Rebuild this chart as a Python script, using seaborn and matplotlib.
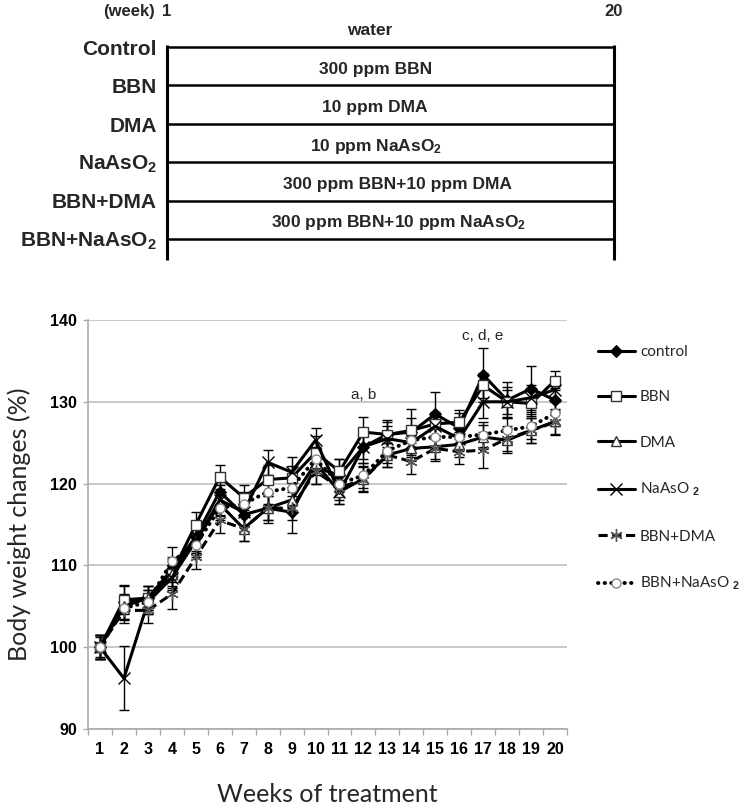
import numpy as np
import pandas as pd
import matplotlib
matplotlib.use("Agg")
import matplotlib.pyplot as plt
import seaborn as sns

# ---------------- data ----------------
groups = ["Control", "BBN", "DMA", r"NaAsO$_\mathbf{2}$", "BBN+DMA", r"BBN+NaAsO$_\mathbf{2}$"]
treatments = ["water", "300 ppm BBN", "10 ppm DMA", r"10 ppm NaAsO$_\mathbf{2}$",
              "300 ppm BBN+10 ppm DMA", r"300 ppm BBN+10 ppm NaAsO$_\mathbf{2}$"]
schedule_weeks = [1, 20]

weeks = list(range(1, 21))
control = [100, 105.5, 106.0, 109.5, 113.5, 119.0, 116.2, 117.0, 116.5, 122.0,
           121.0, 124.5, 126.0, 126.3, 128.5, 126.8, 133.3, 130.2, 131.6, 130.2]
bbn = [100, 105.8, 106.0, 109.0, 115.0, 120.8, 118.3, 120.5, 120.7, 123.8,
       121.5, 126.3, 126.0, 126.5, 127.3, 127.5, 132.0, 130.0, 129.8, 132.6]
dma = [100, 105.0, 106.0, 109.0, 113.0, 117.5, 114.5, 117.0, 118.0, 122.5,
       119.0, 120.6, 123.5, 124.3, 124.5, 124.8, 125.7, 125.3, 126.5, 127.6]
naaso2 = [100, 96.2, 105.5, 108.5, 113.0, 118.0, 116.5, 122.6, 121.4, 125.3,
          119.0, 124.5, 125.5, 125.0, 127.0, 125.5, 130.0, 130.0, 130.5, 131.5]
bbn_dma = [100, 104.5, 104.5, 106.5, 111.0, 115.5, 114.5, 117.0, 117.0, 121.5,
           119.5, 120.5, 123.5, 122.7, 124.3, 123.9, 124.1, 125.5, 126.5, 127.5]
bbn_naaso2 = [100, 104.8, 105.5, 110.5, 112.5, 117.0, 117.5, 119.0, 119.5, 123.0,
              120.0, 121.0, 124.0, 125.3, 125.7, 125.7, 126.0, 126.5, 127.0, 128.6]

control_sd = [1.5, 2.0, 1.5, 1.5, 1.8, 2.0, 1.5, 1.8, 2.5, 2.0,
              2.0, 1.5, 1.5, 2.8, 2.7, 1.8, 3.3, 2.2, 2.8, 1.5]
bbn_sd = [1.2, 1.8, 1.5, 1.8, 1.5, 1.5, 1.5, 1.8, 1.5, 2.0,
          1.5, 1.8, 1.8, 1.5, 1.5, 1.5, 1.5, 1.5, 1.5, 1.2]
dma_sd = [1.5, 1.5, 1.5, 1.5, 1.5, 1.5, 1.5, 1.5, 1.5, 1.5,
          1.5, 1.5, 1.5, 1.5, 1.5, 1.5, 1.5, 1.5, 1.5, 1.5]
naaso2_sd = [1.5, 3.9, 1.5, 1.5, 1.5, 1.8, 1.5, 1.5, 1.8, 1.5,
             1.5, 2.0, 1.5, 1.8, 1.5, 1.5, 2.0, 1.8, 1.5, 1.5]
bbn_dma_sd = [1.5, 1.5, 1.5, 1.8, 1.5, 1.5, 1.5, 1.5, 1.5, 1.5,
              1.5, 1.5, 1.5, 1.5, 1.5, 1.5, 2.2, 1.5, 1.5, 1.5]
bbn_naaso2_sd = [1.5, 1.5, 1.5, 1.8, 1.5, 1.5, 1.5, 1.5, 1.5, 1.5,
                 1.5, 1.5, 1.5, 1.5, 1.5, 1.5, 1.5, 1.5, 1.5, 1.5]

series_names = ["control", "BBN", "DMA", r"NaAsO $_\mathbf{2}$", "BBN+DMA", r"BBN+NaAsO $_\mathbf{2}$"]
series_vals = [control, bbn, dma, naaso2, bbn_dma, bbn_naaso2]
series_sd = [control_sd, bbn_sd, dma_sd, naaso2_sd, bbn_dma_sd, bbn_naaso2_sd]

annotations = ["a, b", "c, d, e"]
annot_week = [12, 17]
annot_y = [130.8, 138.0]

# ---------------- style ----------------
sns.set_theme(style="white")
plt.rcParams["font.family"] = ["Liberation Sans", "DejaVu Sans"]
plt.rcParams["mathtext.fontset"] = "custom"
plt.rcParams["mathtext.rm"] = "Liberation Sans:bold"
plt.rcParams["mathtext.bf"] = "Liberation Sans:bold"
plt.rcParams["mathtext.it"] = "Liberation Sans:bold"

W, H = 742, 811
fig = plt.figure(figsize=(W / 100, H / 100), dpi=100)

# ---------------- top schematic ----------------
top_h = 270
ax_top = fig.add_axes([0, 1 - top_h / H, 1, top_h / H])
ax_top.axis("off")
ppw = (614 - 167) / 19.0
ax_top.set_xlim(1 - 167 / ppw, 1 + (W - 167) / ppw)
row_px = 38.4
ax_top.set_ylim((top_h - 47) / row_px, -47 / row_px)

rows = np.arange(len(groups))
ax_top.hlines(rows, schedule_weeks[0], schedule_weeks[1], color="black", lw=1.8)
ax_top.vlines(schedule_weeks, -0.06, 5.55, color="black", lw=2.2)
label_week = [9.6, 9.85, 9.85, 9.9, 10.8, 10.85]
for i, (g, t) in enumerate(zip(groups, treatments)):
    ax_top.text(1 - 10 / ppw, i + 0.06, g, ha="right", va="center",
                fontsize=15, fontweight="bold")
    ax_top.text(label_week[i], i - 0.42, t, ha="center", va="center",
                fontsize=12.5, fontweight="bold")
ax_top.text(1 - 12 / ppw, -0.93, "(week)", ha="right", va="center", fontsize=12, fontweight="bold")
for wk in schedule_weeks:
    ax_top.text(wk, -0.93, str(wk), ha="center", va="center", fontsize=12, fontweight="bold")

# ---------------- main chart ----------------
ax = fig.add_axes([88 / W, 1 - 729 / H, 479 / W, 409 / H])

styles = [
    dict(marker="D", markersize=6, markerfacecolor="black", markeredgecolor="black", linestyle="-"),
    dict(marker="s", markersize=7.5, markerfacecolor="white", markeredgecolor="#333333", markeredgewidth=1, linestyle="-"),
    dict(marker="^", markersize=7.5, markerfacecolor="white", markeredgecolor="#333333", markeredgewidth=1, linestyle="-"),
    dict(marker="x", markersize=8.5, markeredgecolor="black", markeredgewidth=1, linestyle="-"),
    dict(marker=(6, 2, 0), markersize=9, markeredgecolor="#555555", markeredgewidth=1, linestyle=(0, (3, 1.5))),
    dict(marker="o", markersize=6.5, markerfacecolor="white", markeredgecolor="#888888", markeredgewidth=1,
         linestyle=(0, (0.1, 1.6)), dash_capstyle="round"),
]
line_widths = [2.2, 2.2, 2.2, 2.2, 2.2, 2.8]

for vals, sd in zip(series_vals, series_sd):
    ax.errorbar(weeks, vals, yerr=sd, fmt="none", ecolor="black", elinewidth=1,
                capsize=3.5, capthick=1, zorder=2)
for name, vals, st, lw in zip(series_names, series_vals, styles, line_widths):
    df = pd.DataFrame({"week": weeks, "value": vals})
    sns.lineplot(data=df, x="week", y="value", ax=ax, color="black", linewidth=lw,
                 label=name, errorbar=None, zorder=3, **st)

ax.set_xlim(0.5, 20.5)
ax.set_ylim(90, 140)
ax.set_yticks(np.arange(90, 141, 10))
ax.set_xticks(weeks)
ax.set_xticks(np.arange(0.5, 20.6, 1), minor=True)
ax.tick_params(axis="x", which="major", length=0, pad=9)
ax.tick_params(axis="x", which="minor", length=4, color="#aaaaaa", width=1, bottom=True)
ax.tick_params(axis="y", which="major", length=3.5, color="#aaaaaa", width=1, left=True, pad=4.5)
for lbl in ax.get_xticklabels() + ax.get_yticklabels():
    lbl.set_fontweight("bold")
    lbl.set_fontsize(11.5)
    lbl.set_color("black")
ax.yaxis.grid(True, color="#bfbfbf", linewidth=1.2)
ax.xaxis.grid(False)
for s in ["top", "right"]:
    ax.spines[s].set_visible(False)
for s in ["left", "bottom"]:
    ax.spines[s].set_color("#aaaaaa")
    ax.spines[s].set_linewidth(1.2)

ax.set_xlabel("Weeks of treatment", fontsize=18, family=["Lato", "DejaVu Sans"], labelpad=19)
ax.set_ylabel("Body weight changes (%)", fontsize=18, family=["Lato", "DejaVu Sans"], labelpad=14)

for t, wk, yv in zip(annotations, annot_week, annot_y):
    ax.text(wk, yv, t, ha="center", va="center", fontsize=11)

leg = ax.legend(loc="upper left", bbox_to_anchor=(598 / W, 1 - 345 / H),
                bbox_transform=fig.transFigure, frameon=False, borderpad=0, borderaxespad=0,
                prop={"family": ["Lato", "DejaVu Sans"], "size": 11},
                handlelength=2.4, handletextpad=0.35, labelspacing=2.05)

fig.savefig("out.png", dpi=100)
